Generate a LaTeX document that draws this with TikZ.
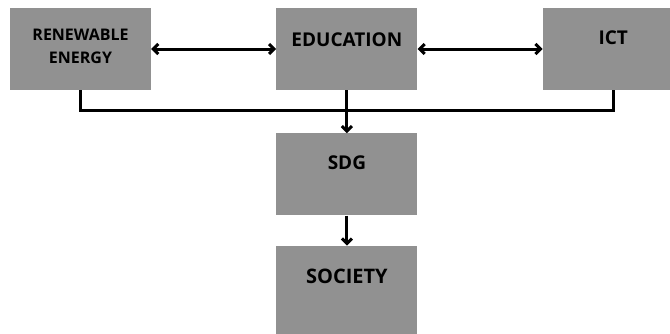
\documentclass[tikz,border=0pt]{standalone}
\usepackage{fontspec}
\setmainfont{Open Sans}
\usepackage{xcolor}
\usepackage{tikz}
\definecolor{boxgray}{RGB}{145,145,145}
\tikzstyle{block} = [rectangle, fill=boxgray, inner sep=0pt,
    minimum width=141pt, minimum height=82pt, align=center,
    font=\fontsize{19}{23}\selectfont\bfseries, text height=13.5pt, text depth=20pt]
\tikzstyle{link} = [line width=3pt]
\usetikzlibrary{arrows.meta}
\usetikzlibrary{positioning}

\begin{document}
\begin{tikzpicture}[x=1pt,y=1pt]
    \useasboundingbox (0,0) rectangle (670,-333);

    \node[block,font=\fontsize{16}{23}\selectfont\bfseries,text height=28pt,text depth=0pt] (renewable) at (80.5,-49) {RENEWABLE\\ENERGY};
    \node[block,right=125pt of renewable,text depth=18pt] (education) {EDUCATION};
    \node[block,right=125pt of education,text depth=22pt] (ict) {ICT};

    \node[block,below=43pt of education,text depth=23pt] (sdg) {SDG};
    \node[block,below=30pt of sdg,minimum height=90pt,text depth=28pt,font=\fontsize{20}{23}\selectfont\bfseries] (society) {SOCIETY};

    \draw[link,{Straight Barb[length=5pt,width=10pt]}-{Straight Barb[length=5pt,width=10pt]}] (renewable) -- (education);
    \draw[link,{Straight Barb[length=5pt,width=10pt]}-{Straight Barb[length=5pt,width=10pt]}] (education) -- (ict);

    % common line from the three top boxes
    \draw[link] (renewable.south) -- ++(0,-20.5) -| (ict.south);
    \draw[link,-{Straight Barb[length=5pt,width=10pt]}] (education) -- (sdg);
    \draw[link,-{Straight Barb[length=5pt,width=10pt]}] (sdg) -- (society);
  \end{tikzpicture}
\end{document}
